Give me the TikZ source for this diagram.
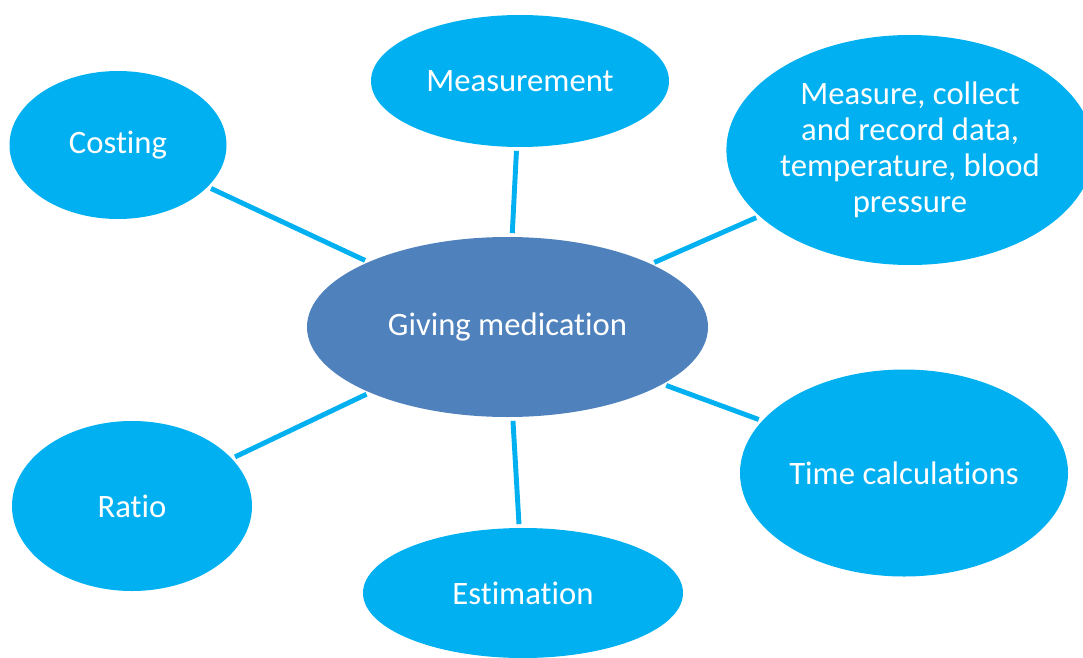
\documentclass[tikz,border=0pt]{standalone}
\usepackage{fontspec}
\setmainfont{Carlito}[Ligatures=NoCommon]
\usepackage{tikz}
\usetikzlibrary{shapes.geometric}
\definecolor{hubcol}{RGB}{79, 129, 189}
\definecolor{leafcol}{RGB}{0, 176, 240}

\begin{document}
\begin{tikzpicture}[
    bubble/.style={ellipse, fill=leafcol, inner sep=0pt, text=white, align=center,
      font=\fontsize{18.6}{20.5}\selectfont},
    spoke/.style={line width=2.8pt, color=leafcol, shorten <=2pt, shorten >=2pt}]
\useasboundingbox (0,0) rectangle (21.66,-13.14);
\clip (0,0) rectangle (21.66,-13.14);

% centre
\node[bubble, fill=hubcol, minimum width=8.02cm, minimum height=3.6cm] (hub) at (10.15,-6.54) {Giving medication};

% outer topics
\node[bubble, minimum width=5.96cm, minimum height=2.64cm] (measurement) at (10.40,-1.62) {Measurement};
\node[bubble, minimum width=4.34cm, minimum height=2.96cm] (costing) at (2.36,-2.90) {Costing};
\node[bubble, minimum width=7.32cm, minimum height=4.6cm] (record) at (18.20,-3.00) {Measure, collect\\and record data,\\temperature, blood\\pressure};
\node[bubble, minimum width=6.56cm, minimum height=4.14cm] (timecalc) at (18.08,-9.46) {Time calculations};
\node[bubble, minimum width=4.8cm, minimum height=3.4cm] (ratio) at (2.64,-10.12) {Ratio};
\node[bubble, minimum width=6.4cm, minimum height=2.6cm] (estimation) at (10.46,-11.86) {Estimation};

% spokes
\foreach \leaf in {measurement, costing, record, timecalc, ratio, estimation}
  \draw[spoke] (hub) -- (\leaf);
\end{tikzpicture}
\end{document}
